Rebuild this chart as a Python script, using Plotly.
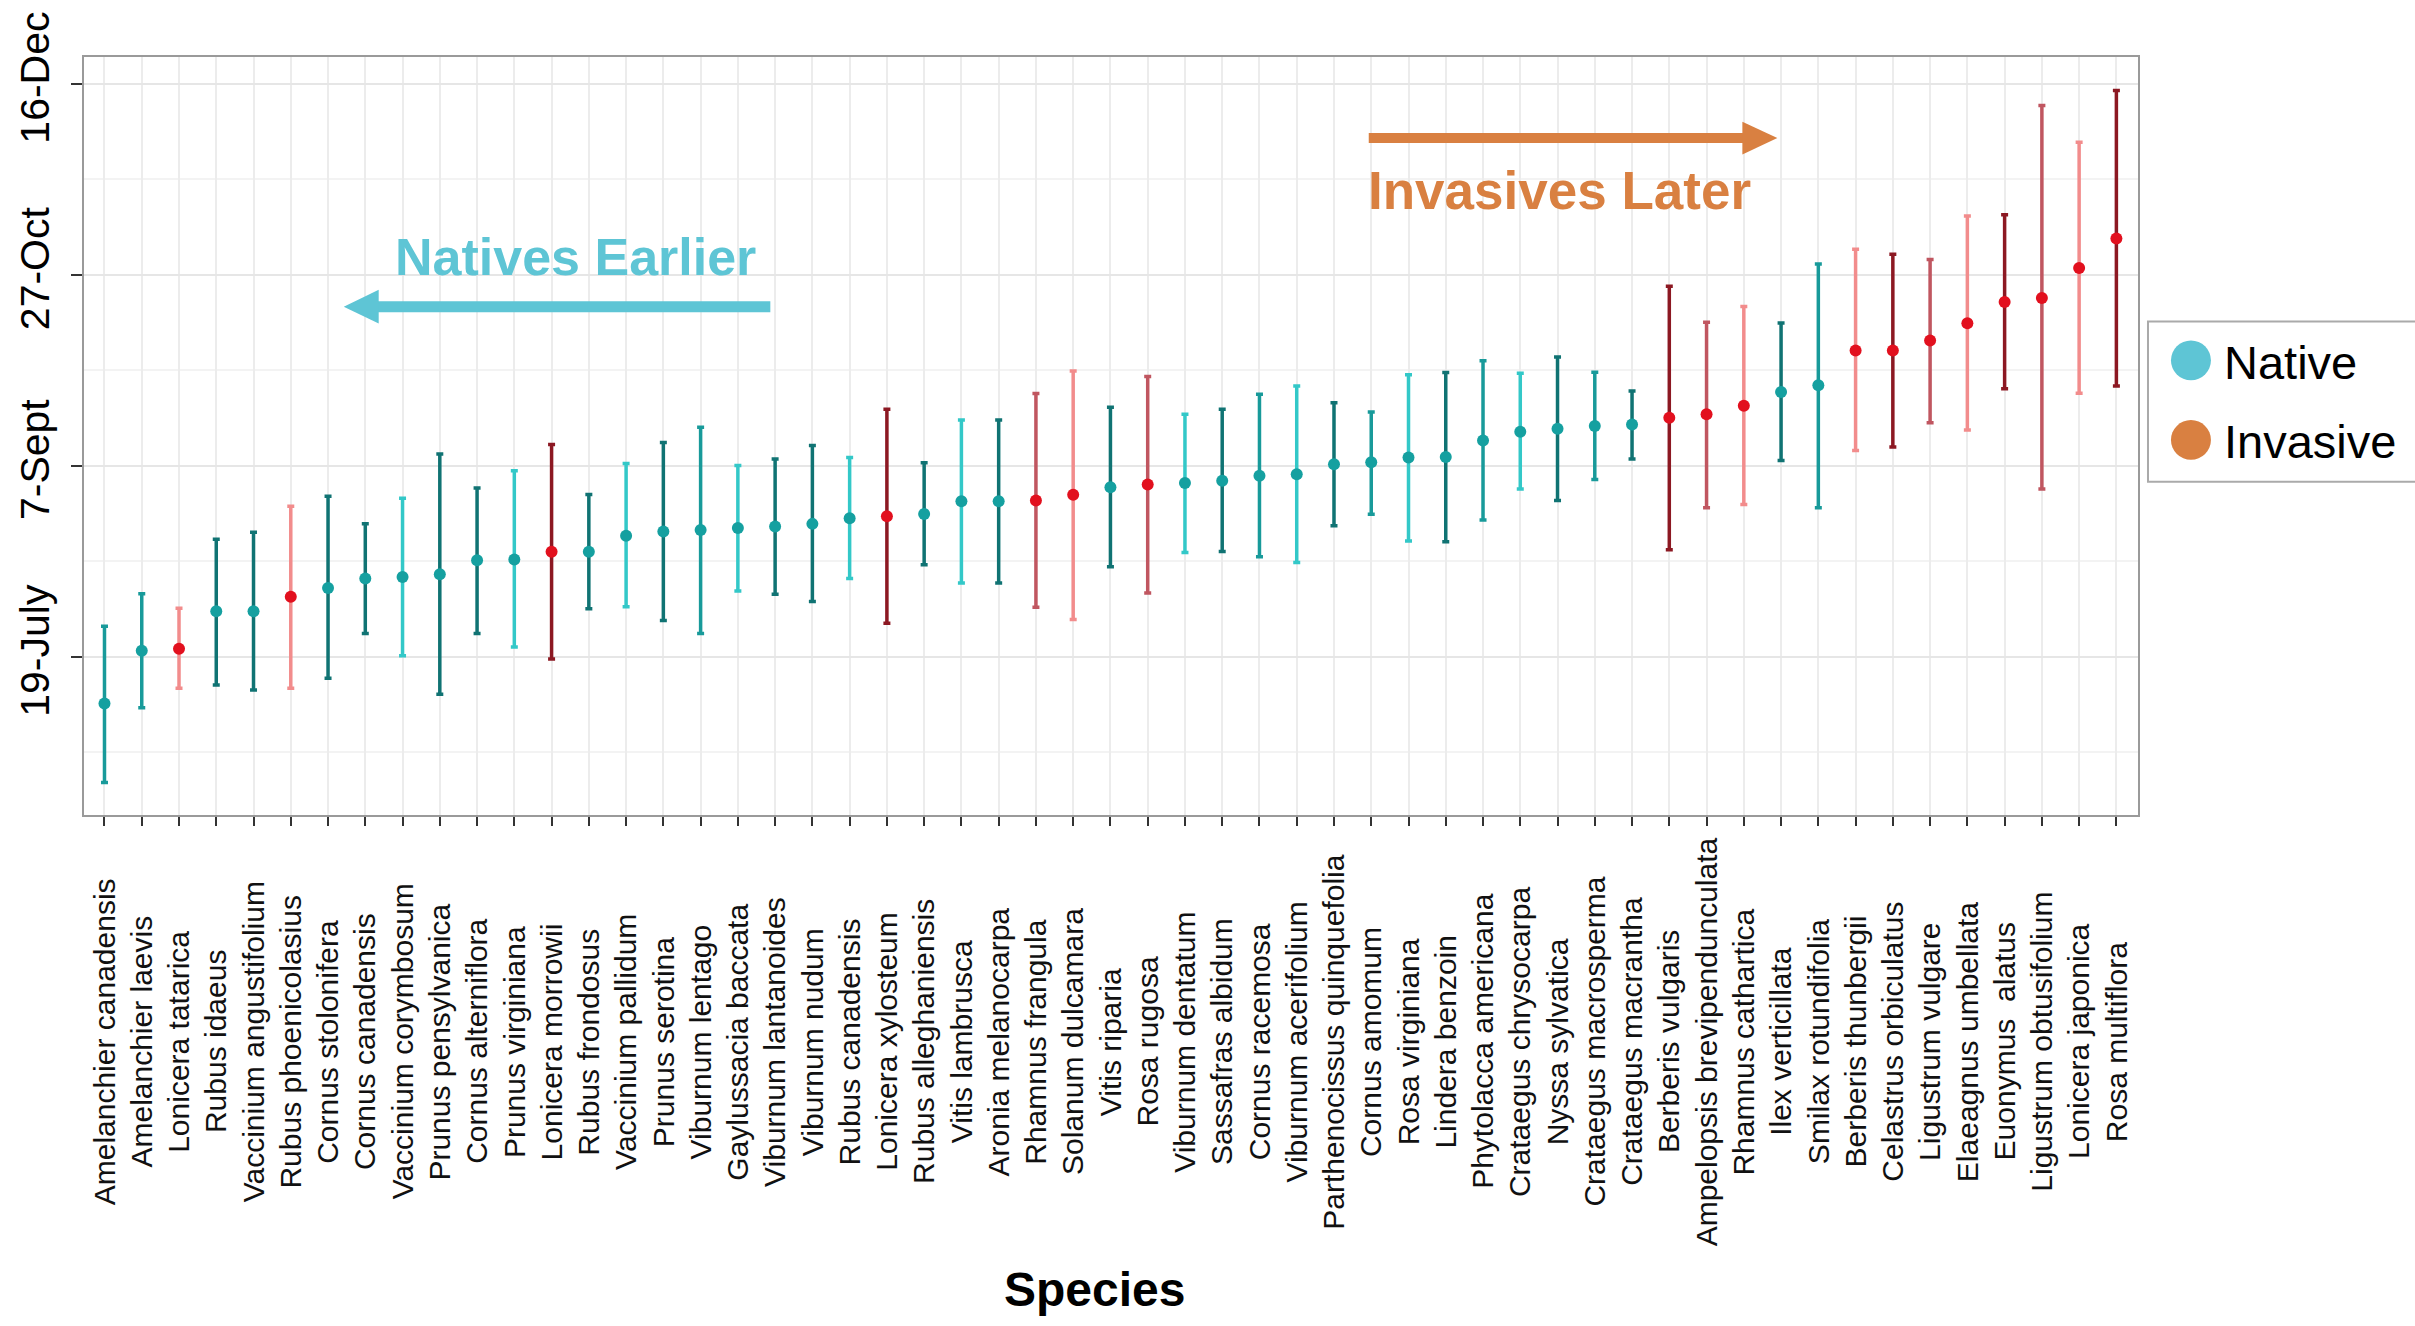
import plotly.graph_objects as go

# ---------------- data ----------------
species = [
    "Amelanchier canadensis", "Amelanchier laevis", "Lonicera tatarica", "Rubus idaeus",
    "Vaccinium angustifolium", "Rubus phoenicolasius", "Cornus stolonifera", "Cornus canadensis",
    "Vaccinium corymbosum", "Prunus pensylvanica", "Cornus alterniflora", "Prunus virginiana",
    "Lonicera morrowii", "Rubus frondosus", "Vaccinium pallidum", "Prunus serotina",
    "Viburnum lentago", "Gaylussacia baccata", "Viburnum lantanoides", "Viburnum nudum",
    "Rubus canadensis", "Lonicera xylosteum", "Rubus alleghaniensis", "Vitis lambrusca",
    "Aronia melanocarpa", "Rhamnus frangula", "Solanum dulcamara", "Vitis riparia",
    "Rosa rugosa", "Viburnum dentatum", "Sassafras albidum", "Cornus racemosa",
    "Viburnum acerifolium", "Parthenocissus quinquefolia", "Cornus amomum", "Rosa virginiana",
    "Lindera benzoin", "Phytolacca americana", "Crataegus chrysocarpa", "Nyssa sylvatica",
    "Crataegus macrosperma", "Crataegus macrantha", "Berberis vulgaris",
    "Ampelopsis brevipendunculata", "Rhamnus cathartica", "Ilex verticillata",
    "Smilax rotundifolia", "Berberis thunbergii", "Celastrus orbiculatus", "Ligustrum vulgare",
    "Elaeagnus umbellata", "Euonymus  alatus", "Ligustrum obtusifolium", "Lonicera japonica",
    "Rosa multiflora",
]

status = [
    "N", "N", "I", "N", "N", "I", "N", "N", "N", "N", "N", "N", "I", "N", "N", "N",
    "N", "N", "N", "N", "N", "I", "N", "N", "N", "I", "I", "N", "I", "N", "N", "N",
    "N", "N", "N", "N", "N", "N", "N", "N", "N", "N", "I", "I", "I", "N", "N", "I",
    "I", "I", "I", "I", "I", "I", "I",
]

# day of year: mean fruiting date and interval
mean_day = [
    187.8, 201.6, 202.1, 211.9, 211.9, 215.7, 218.0, 220.5, 220.9, 221.6, 225.3, 225.5,
    227.5, 227.5, 231.7, 232.8, 233.2, 233.7, 234.1, 234.8, 236.3, 236.8, 237.4, 240.7,
    240.7, 240.9, 242.4, 244.4, 245.1, 245.5, 246.1, 247.4, 247.8, 250.4, 250.9, 252.2,
    252.3, 256.6, 258.9, 259.7, 260.4, 260.8, 262.6, 263.5, 265.7, 269.3, 271.1, 280.2,
    280.2, 282.8, 287.3, 292.9, 293.9, 301.8, 309.5,
]
upper_day = [
    208.0, 216.5, 212.7, 230.8, 232.6, 239.4, 242.0, 234.8, 241.5, 253.1, 244.2, 248.7,
    255.6, 242.5, 250.6, 256.1, 260.1, 250.1, 251.8, 255.3, 252.2, 264.8, 250.8, 262.0,
    262.0, 268.9, 274.8, 265.3, 273.4, 263.5, 264.8, 268.7, 270.9, 266.5, 264.1, 273.8,
    274.4, 277.5, 274.2, 278.5, 274.5, 269.6, 297.0, 287.6, 291.7, 287.4, 302.8, 306.7,
    305.4, 304.0, 315.4, 315.7, 344.3, 334.7, 348.2,
]
lower_day = [
    167.1, 186.7, 191.8, 192.6, 191.3, 191.8, 194.4, 206.1, 200.3, 190.2, 206.1, 202.6,
    199.4, 212.6, 213.1, 209.5, 206.1, 217.2, 216.4, 214.5, 220.5, 208.8, 224.1, 219.3,
    219.3, 213.0, 209.8, 223.6, 216.7, 227.3, 227.6, 226.2, 224.7, 234.3, 237.3, 230.3,
    230.1, 235.8, 243.9, 240.9, 246.4, 251.8, 228.0, 239.0, 239.9, 251.4, 239.0, 254.0,
    254.9, 261.3, 259.4, 270.2, 243.9, 269.0, 270.9,
]
# shade of each interval bar as it appears in the picture (d = dark, m = medium, l = light)
bar_shade = [
    "m", "m", "l", "d", "d", "l", "d", "d", "l", "d", "d", "l", "d", "d", "l", "d",
    "m", "l", "d", "d", "l", "d", "d", "l", "d", "m", "l", "d", "m", "l", "d", "m",
    "l", "d", "m", "l", "d", "m", "l", "d", "m", "d", "d", "m", "l", "d", "m", "l",
    "d", "m", "l", "d", "m", "l", "d",
]

ytick_vals = [200, 250, 300, 350]
ytick_text = ["19-July", "7-Sept", "27-Oct", "16-Dec"]

# ---------------- styling ----------------
W, H = 2415, 1326
PL, PR, PT, PB = 82, 2138, 53, 815  # plot area in pixels

point_color = {"N": "#15a0a0", "I": "#e2101e"}
bar_color = {
    ("N", "d"): "#107373", ("N", "m"): "#189a9a", ("N", "l"): "#33c8c8",
    ("I", "d"): "#8c1822", ("I", "m"): "#c05660", ("I", "l"): "#f28c8c",
}


def px_x(X):
    return (X - PL) / (PR - PL)


def px_y(Y):
    return (PB - Y) / (PB - PT)


fig = go.Figure()

for (st, sh), col in bar_color.items():
    idx = [i for i in range(len(species)) if status[i] == st and bar_shade[i] == sh]
    if not idx:
        continue
    fig.add_trace(go.Scatter(
        x=[species[i] for i in idx],
        y=[mean_day[i] for i in idx],
        mode="markers",
        marker=dict(color=point_color[st], size=12),
        error_y=dict(
            type="data", symmetric=False,
            array=[upper_day[i] - mean_day[i] for i in idx],
            arrayminus=[mean_day[i] - lower_day[i] for i in idx],
            color=col, thickness=3.5, width=3.5,
        ),
        showlegend=False,
        hoverinfo="skip",
    ))

annotations = []
# x category labels, centred under each tick
for s in species:
    annotations.append(dict(
        x=s, xref="x", y=px_y(1043), yref="paper",
        text=s, textangle=-90, showarrow=False,
        xanchor="center", yanchor="middle",
        font=dict(family="Liberation Sans, Arial, sans-serif", size=30, color="#111111"),
    ))

annotations += [
    dict(x=px_x(1093), y=px_y(1292), xref="paper", yref="paper", text="<b>Species</b>",
         showarrow=False, xanchor="center", yanchor="middle",
         font=dict(family="Liberation Sans, Arial, sans-serif", size=48, color="#000000")),
    dict(x=px_x(574), y=px_y(254), xref="paper", yref="paper", text="<b>Natives Earlier</b>",
         showarrow=False, xanchor="center", yanchor="middle",
         font=dict(family="Liberation Sans, Arial, sans-serif", size=52, color="#5ec5d5")),
    dict(x=px_x(1559), y=px_y(187), xref="paper", yref="paper", text="<b>Invasives Later</b>",
         showarrow=False, xanchor="center", yanchor="middle",
         font=dict(family="Liberation Sans, Arial, sans-serif", size=53, color="#d98041")),
    dict(x=px_x(2222), y=px_y(360), xref="paper", yref="paper", text="Native",
         showarrow=False, xanchor="left", yanchor="middle",
         font=dict(family="Liberation Sans, Arial, sans-serif", size=47, color="#000000")),
    dict(x=px_x(2222), y=px_y(440), xref="paper", yref="paper", text="Invasive",
         showarrow=False, xanchor="left", yanchor="middle",
         font=dict(family="Liberation Sans, Arial, sans-serif", size=47, color="#000000")),
]

cyan = "#5ec5d5"
orange = "#d98041"
shapes = [
    # Natives Earlier arrow
    dict(type="line", xref="paper", yref="paper", x0=px_x(372), x1=px_x(769),
         y0=px_y(304), y1=px_y(304), line=dict(color=cyan, width=11)),
    dict(type="path", xref="paper", yref="paper",
         path=f"M {px_x(342)} {px_y(304)} L {px_x(377)} {px_y(287)} L {px_x(377)} {px_y(321)} Z",
         fillcolor=cyan, line=dict(width=0)),
    # Invasives Later arrow
    dict(type="line", xref="paper", yref="paper", x0=px_x(1368), x1=px_x(1746),
         y0=px_y(134.5), y1=px_y(134.5), line=dict(color=orange, width=10)),
    dict(type="path", xref="paper", yref="paper",
         path=f"M {px_x(1777)} {px_y(134.5)} L {px_x(1742)} {px_y(118)} L {px_x(1742)} {px_y(151)} Z",
         fillcolor=orange, line=dict(width=0)),
    # legend box
    dict(type="rect", xref="paper", yref="paper", x0=px_x(2148), x1=px_x(2440),
         y0=px_y(319), y1=px_y(480), line=dict(color="#aaaaaa", width=2), fillcolor="white"),
    dict(type="circle", xref="paper", yref="paper", x0=px_x(2171), x1=px_x(2211),
         y0=px_y(338), y1=px_y(378), fillcolor=cyan, line=dict(width=0)),
    dict(type="circle", xref="paper", yref="paper", x0=px_x(2171), x1=px_x(2211),
         y0=px_y(418), y1=px_y(458), fillcolor=orange, line=dict(width=0)),
]

fig.update_layout(
    width=W, height=H,
    margin=dict(l=PL, r=W - PR, t=PT, b=H - PB, pad=0),
    paper_bgcolor="white", plot_bgcolor="white",
    showlegend=False,
    annotations=annotations,
    shapes=shapes,
    font=dict(family="Liberation Sans, Arial, sans-serif", color="#000000"),
)

fig.update_xaxes(
    type="category", categoryorder="array", categoryarray=species,
    range=[-0.55, 54.58],
    showticklabels=False,
    ticks="outside", ticklen=9, tickwidth=2, tickcolor="#333333",
    showgrid=True, gridcolor="#ececec", gridwidth=1.5,
    showline=True, linecolor="#9a9a9a", linewidth=2, mirror=True,
    zeroline=False,
)

fig.update_yaxes(
    range=[158.6, 357.0],
    tickmode="array", tickvals=ytick_vals, ticktext=ytick_text,
    tickangle=-90,
    tickfont=dict(family="Liberation Sans, Arial, sans-serif", size=41, color="#000000"),
    ticks="outside", ticklen=11, tickwidth=2, tickcolor="#333333",
    ticklabelstandoff=6,
    showgrid=True, gridcolor="#e6e6e6", gridwidth=1.5,
    minor=dict(tick0=0, dtick=25, showgrid=True, gridcolor="#f3f3f3", gridwidth=1.5),
    showline=True, linecolor="#9a9a9a", linewidth=2, mirror=True,
    zeroline=False,
)

fig.write_html(
    "out.html",
    config={"displayModeBar": False},
    post_script="document.body.style.margin='0';document.body.style.overflow='hidden';",
)
